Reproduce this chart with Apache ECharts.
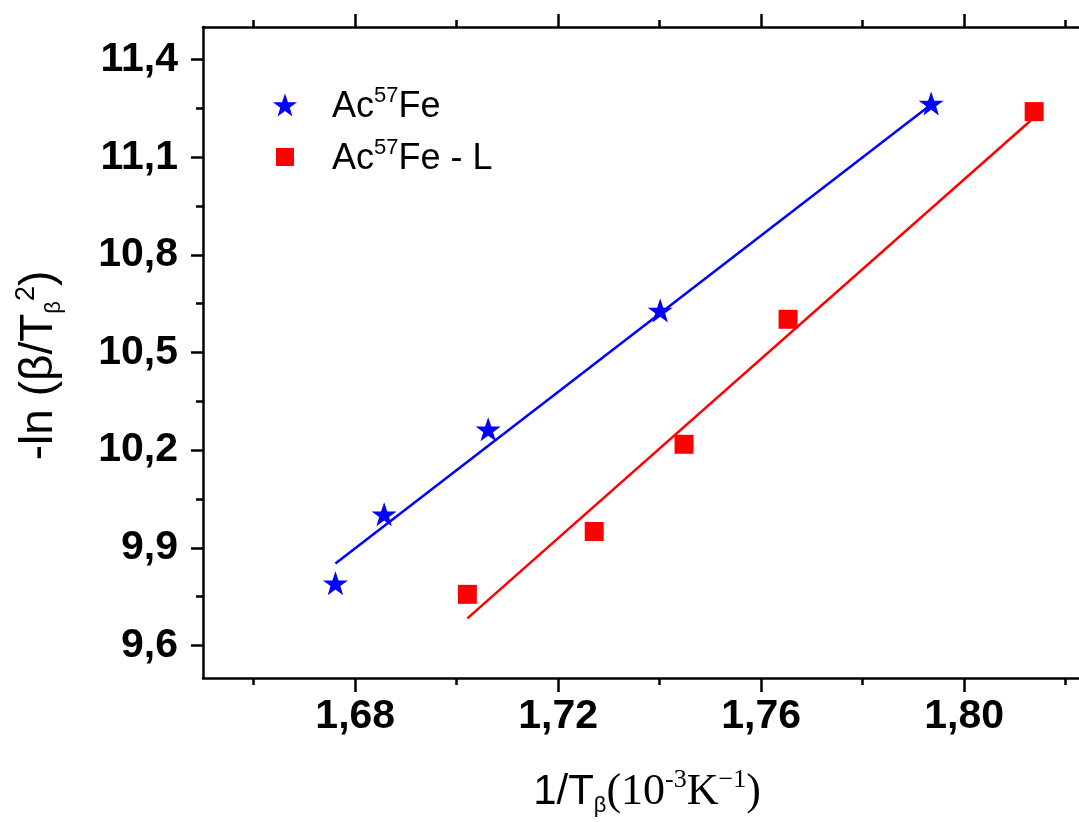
<!DOCTYPE html>
<html>
<head>
<meta charset="utf-8">
<script src="https://cdn.jsdelivr.net/npm/echarts@6/dist/echarts.min.js"></script>
<style>html,body{margin:0;padding:0;background:#fff;}#c{width:1079px;height:822px;}</style>
</head>
<body>
<div id="c"></div>
<script>
// ---- data ----
const seriesNames = ['Ac57Fe', 'Ac57Fe - L'];
const acFeX = [1.6761, 1.6857, 1.7062, 1.7401, 1.7935];
const acFeY = [9.791, 10.003, 10.264, 10.629, 11.265];
const acFeLX = [1.7021, 1.7271, 1.7448, 1.7653, 1.8138];
const acFeLY = [9.757, 9.950, 10.218, 10.602, 11.240];
// fitted lines (end points)
const acFeFitX = [1.6761, 1.7935];
const acFeFitY = [9.852, 11.262];
const acFeLFitX = [1.7021, 1.8138];
const acFeLFitY = [9.683, 11.222];
// ticks
const xMajorTicks = [1.68, 1.72, 1.76, 1.80];
const xMinorTicks = [1.66, 1.70, 1.74, 1.78, 1.82];
const yMajorTicks = [9.6, 9.9, 10.2, 10.5, 10.8, 11.1, 11.4];
const yMinorTicks = [9.75, 10.05, 10.35, 10.65, 10.95, 11.25];
const xMin = 1.65, xMax = 1.825, yMin = 9.5, yMax = 11.5;

const zip = (xs, ys) => xs.map((x, i) => [x, ys[i]]);
const STAR = 'path://M50,0 L61.8,34.5 L97.6,34.5 L68.8,55.9 L79.4,90.5 L50,69.1 L20.6,90.5 L31.2,55.9 L2.4,34.5 L38.2,34.5 Z';
const SQUARE = 'path://M0,0 L0,0.01 L0.01,0.01 Z M3,3 L21,3 L21,21 L3,21 Z M24,24 L24,23.99 L23.99,24 Z';
const SANS = '"Liberation Sans", Arial, sans-serif';
const SERIF = '"Liberation Serif", "Times New Roman", serif';
const grid = {left: 203, top: 27, right: -12, bottom: 144, outerBoundsMode: 'none', containLabel: false};
const axisLineStyle = {color: '#000', width: 2.5};

function xAx(gridIndex, position, ticks, len, showLabel, name) {
  return {
    type: 'value', gridIndex, position, min: xMin, max: xMax,
    axisLine: {show: gridIndex === 0, lineStyle: axisLineStyle, onZero: false},
    axisTick: {show: true, customValues: ticks, length: len, inside: false, lineStyle: {color: '#000', width: 2.5}},
    axisLabel: {show: showLabel, customValues: ticks, margin: 18,
      formatter: v => v.toFixed(2).replace('.', ','),
      fontFamily: SANS, fontWeight: 'bold', fontSize: 41, color: '#000'},
    splitLine: {show: false},
    name: name || '', nameLocation: 'middle', nameGap: 89,
    nameTextStyle: name ? {
      rich: {
        a: {fontFamily: SANS, fontSize: 42, color: '#000', lineHeight: 50, verticalAlign: 'middle'},
        sub: {fontFamily: SANS, fontSize: 22, color: '#000', lineHeight: 50, verticalAlign: 'bottom', padding: [44, 0, 0, 0]},
        t: {fontFamily: SERIF, fontSize: 44, color: '#000', lineHeight: 50, verticalAlign: 'middle'},
        tsup: {fontFamily: SERIF, fontSize: 26, color: '#000', lineHeight: 26, verticalAlign: 'top'}
      }
    } : {}
  };
}
function yAx(gridIndex, ticks, len, showLabel, name) {
  return {
    type: 'value', gridIndex, position: 'left', min: yMin, max: yMax,
    axisLine: {show: gridIndex === 0, lineStyle: axisLineStyle, onZero: false},
    axisTick: {show: true, customValues: ticks, length: len, inside: false, lineStyle: {color: '#000', width: 2.5}},
    axisLabel: {show: showLabel, customValues: ticks, margin: 25,
      formatter: v => v.toFixed(1).replace('.', ','),
      fontFamily: SANS, fontWeight: 'bold', fontSize: 41, color: '#000'},
    splitLine: {show: false},
    name: name || '', nameLocation: 'middle', nameGap: 138, nameRotate: 90,
    nameTextStyle: name ? {
      padding: [0, 26, 0, 0],
      rich: {
        a: {fontFamily: SANS, fontSize: 46, color: '#000', lineHeight: 52, verticalAlign: 'middle'},
        sub: {fontFamily: SANS, fontSize: 22, color: '#000', lineHeight: 52, verticalAlign: 'bottom', padding: [26, 0, 0, 0]},
        sup: {fontFamily: SANS, fontSize: 27, color: '#000', lineHeight: 27, verticalAlign: 'top'}
      }
    } : {}
  };
}

const legendRich = {
  sp: {width: 30},
  a: {fontFamily: SANS, fontSize: 36, color: '#000', lineHeight: 40, verticalAlign: 'bottom'},
  s: {fontFamily: SANS, fontSize: 22, color: '#000', lineHeight: 22, verticalAlign: 'top'}
};

const chart = echarts.init(document.getElementById('c'), null, {renderer: 'canvas'});
chart.setOption({
  animation: false,
  backgroundColor: '#fff',
  grid: [Object.assign({}, grid), Object.assign({}, grid)],
  xAxis: [
    xAx(0, 'bottom', xMajorTicks, 14, true, '{a|1/T}{sub|β}{t|(10}{tsup|-3}{t|K}{tsup|−1}{t|)}'),
    xAx(0, 'top', xMajorTicks, 13, false),
    xAx(1, 'bottom', xMinorTicks, 7, false),
    xAx(1, 'top', xMinorTicks, 7, false)
  ],
  yAxis: [
    yAx(0, yMajorTicks, 12, true, '{a|-ln (β/T}{sub|β}{sup|2}{a|)}'),
    yAx(1, yMinorTicks, 7, false)
  ],
  legend: {
    orient: 'vertical', left: 268, top: 80,
    itemWidth: 24, itemHeight: 24, itemGap: 12,
    data: [
      {name: seriesNames[0], icon: STAR},
      {name: seriesNames[1], icon: SQUARE}
    ],
    formatter: n => n === seriesNames[0] ? '{sp|}{a|Ac}{s|57}{a|Fe}' : '{sp|}{a|Ac}{s|57}{a|Fe - L}',
    textStyle: {rich: legendRich}
  },
  series: [
    {name: seriesNames[0], type: 'scatter', xAxisIndex: 0, yAxisIndex: 0, symbol: STAR, symbolSize: [25, 24],
      itemStyle: {color: '#0000ff', opacity: 1}, data: zip(acFeX, acFeY), z: 5},
    {name: seriesNames[1], type: 'scatter', xAxisIndex: 0, yAxisIndex: 0, symbol: 'rect', symbolSize: 19,
      itemStyle: {color: '#ff0000', opacity: 1}, data: zip(acFeLX, acFeLY), z: 5},
    {name: 'fit1', type: 'line', xAxisIndex: 0, yAxisIndex: 0, showSymbol: false, symbol: 'none',
      lineStyle: {color: '#0000ff', width: 2.5}, data: zip(acFeFitX, acFeFitY), z: 3},
    {name: 'fit2', type: 'line', xAxisIndex: 0, yAxisIndex: 0, showSymbol: false, symbol: 'none',
      lineStyle: {color: '#ff0000', width: 2.5}, data: zip(acFeLFitX, acFeLFitY), z: 3}
  ]
});
</script>
</body>
</html>
